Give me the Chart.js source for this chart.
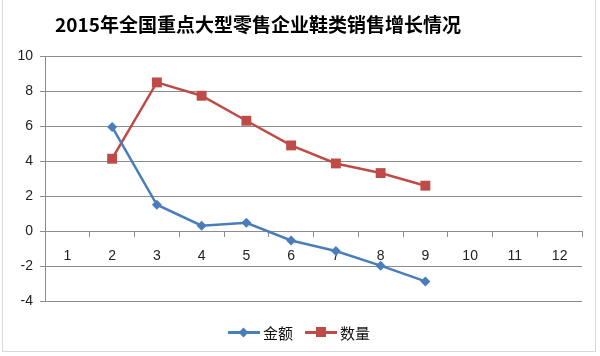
<!DOCTYPE html>
<html>
<head>
<meta charset="utf-8">
<script src="https://cdn.jsdelivr.net/npm/chart.js@4/dist/chart.umd.min.js"></script>
<style>
  html, body { margin:0; padding:0; background:#fff; }
  #wrap { position:relative; width:600px; height:356px; overflow:hidden; }
  #frame { position:absolute; left:2px; top:-2px; width:594px; height:354px; border:1px solid #d9d9d9; box-sizing:border-box; }
  #title { position:absolute; left:0; width:516px; top:10px; text-align:center; font-family:"Noto Sans CJK SC", sans-serif; font-weight:bold; font-size:19px; color:#000; line-height:28px; white-space:nowrap; }
  #legend { position:absolute; left:228px; top:321px; height:22px; display:flex; align-items:center; font-family:"Noto Sans CJK SC", sans-serif; font-size:15px; color:#111; }
  .item { display:flex; align-items:center; margin-right:12px; }
  .sample { position:relative; width:32px; height:14px; margin-right:3px; }
  .sample .ln { position:absolute; left:0; right:0; top:6px; height:3px; }
  .sample .mk { position:absolute; }
  canvas { position:absolute; left:0; top:0; }
</style>
</head>
<body>
<div id="wrap">
  <canvas id="c" width="600" height="356"></canvas>
  <div id="frame"></div>
  <div id="title">2015年全国重点大型零售企业鞋类销售增长情况</div>
  <div id="legend"></div>
</div>
<script>
const titleText = "2015年全国重点大型零售企业鞋类销售增长情况";
const categories = ["1","2","3","4","5","6","7","8","9","10","11","12"];
const amountLabel = "金额";
const amountValues = [null, 5.95, 1.5, 0.3, 0.47, -0.54, -1.14, -1.98, -2.88, null, null, null];
const quantityLabel = "数量";
const quantityValues = [null, 4.13, 8.49, 7.73, 6.3, 4.89, 3.86, 3.31, 2.59, null, null, null];
const yTicks = [-4, -2, 0, 2, 4, 6, 8, 10];

const blue = "#4a7ebb";
const red = "#be4b48";
const gridColor = "#8c8c8c";

document.getElementById("title").textContent = titleText;

const chart = new Chart(document.getElementById("c"), {
  type: "line",
  data: {
    labels: categories,
    datasets: [
      { label: amountLabel, data: amountValues, borderColor: blue, backgroundColor: blue,
        borderWidth: 2.5, pointStyle: "rectRot", pointRadius: 5, pointBorderWidth: 0, tension: 0 },
      { label: quantityLabel, data: quantityValues, borderColor: red, backgroundColor: red,
        borderWidth: 2.5, pointStyle: "rect", pointRadius: 7, pointBorderWidth: 0, tension: 0 }
    ]
  },
  options: {
    responsive: false,
    animation: false,
    events: [],
    layout: { padding: { top: 56, bottom: 55, right: 18, left: 0 } },
    plugins: { legend: { display: false }, title: { display: false }, tooltip: { enabled: false } },
    scales: {
      x: {
        type: "category",
        position: { y: 0 },
        offset: true,
        grid: { display: true, drawOnChartArea: false, drawTicks: true, tickLength: 5, offset: true, color: gridColor },
        border: { display: true, color: gridColor, width: 1 },
        ticks: { color: "#222", font: { family: "Liberation Sans, Arial, sans-serif", size: 14 }, padding: 12, maxRotation: 0, autoSkip: false }
      },
      y: {
        min: -4, max: 10,
        afterBuildTicks: (s) => { s.ticks = yTicks.map(v => ({ value: v })); },
        afterFit: (s) => { s.width = 45; },
        grid: { color: gridColor, lineWidth: 1, drawTicks: true, tickLength: 5 },
        border: { display: true, color: gridColor, width: 1 },
        ticks: { color: "#222", font: { family: "Liberation Sans, Arial, sans-serif", size: 14 }, padding: 7 }
      }
    }
  }
});

// HTML legend built from dataset info
const legend = document.getElementById("legend");
chart.data.datasets.forEach(ds => {
  const item = document.createElement("div"); item.className = "item";
  const sample = document.createElement("div"); sample.className = "sample";
  const ln = document.createElement("div"); ln.className = "ln"; ln.style.background = ds.borderColor;
  const mk = document.createElement("div"); mk.className = "mk"; mk.style.background = ds.backgroundColor;
  if (ds.pointStyle === "rectRot") {
    mk.style.width = "7px"; mk.style.height = "7px"; mk.style.left = "12px"; mk.style.top = "4px"; mk.style.transform = "rotate(45deg)";
  } else {
    mk.style.width = "10px"; mk.style.height = "10px"; mk.style.left = "11px"; mk.style.top = "2px";
  }
  sample.appendChild(ln); sample.appendChild(mk);
  const txt = document.createElement("span"); txt.textContent = ds.label;
  item.appendChild(sample); item.appendChild(txt);
  legend.appendChild(item);
});
</script>
</body>
</html>
